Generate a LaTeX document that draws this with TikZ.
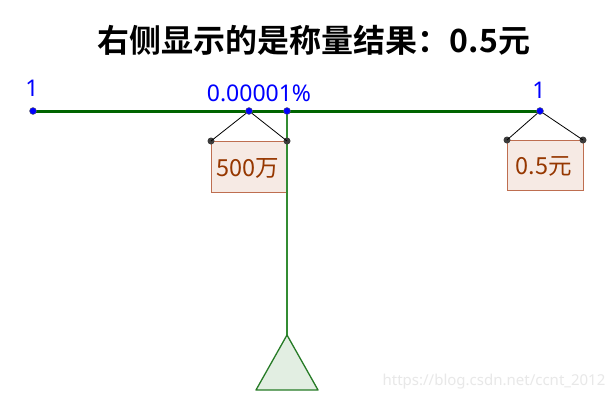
\documentclass[tikz,border=0pt]{standalone}
\usepackage{fontspec}
\setmainfont{Noto Sans}
\newfontfamily\cjk{Noto Sans CJK SC}
\newfontfamily\cjkb{Noto Sans CJK SC Bold}
\definecolor{beamgreen}{RGB}{0,100,0}
\definecolor{rodgreen}{RGB}{50,140,50}
\definecolor{ptblue}{RGB}{0,0,255}
\definecolor{boxfill}{RGB}{246,234,228}
\definecolor{boxdraw}{RGB}{190,110,80}
\definecolor{txtbrown}{RGB}{150,55,0}
\definecolor{trifill}{RGB}{226,238,226}
\definecolor{hookgray}{RGB}{60,60,60}
\tikzset{
  bluept/.style={circle,fill=ptblue,draw=black!60,line width=0.4pt,inner sep=0pt,minimum size=7pt},
  graypt/.style={circle,fill=hookgray,inner sep=0pt,minimum size=7pt},
  weightbox/.style={draw=boxdraw,fill=boxfill,line width=1pt},
  wtext/.style={text=txtbrown,font=\cjk\fontsize{23.5}{23.5}\selectfont},
  bluelab/.style={text=ptblue,font=\fontsize{23}{23}\selectfont},
  string/.style={draw=black,line width=0.8pt}
}
\begin{document}
\begin{tikzpicture}[x=1pt,y=-1pt]
\useasboundingbox[fill=white] (0,0) rectangle (613,402);
% title
\node[font=\cjkb\fontsize{32}{32}\selectfont] (title) at (314,40) {右侧显示的是称量结果：0.5元};
% boxes
\draw[weightbox] (211,141) rectangle (287,192);
\draw[weightbox] (507,140) rectangle (583,190);
\node[wtext] (w1) at (248,168) {500万};
\node[wtext] (w2) at (544,166) {0.5元};
% vertical rod
\coordinate (rodtop) at (287,111);
\coordinate (apex) at (287,335);
\draw[rodgreen,line width=1.2pt] (rodtop) -- (apex);
% triangle
\coordinate (bl) at (256,390);
\coordinate (br) at (318,390);
\draw[fill=trifill,draw=beamgreen!85,line width=1.3pt,line join=round] (apex) -- (br) -- (bl) -- cycle;
% beam
\coordinate (L) at (33,111);
\coordinate (R) at (540,111);
\draw[beamgreen,line width=3pt] (L) -- (R);
% strings
\coordinate (h1) at (249,111);
\node[graypt] (g1) at (211,141) {};
\node[graypt] (g2) at (287,141) {};
\node[graypt] (g3) at (507,140) {};
\node[graypt] (g4) at (583,140) {};
\draw[string] (g1.center) -- (h1) -- (g2.center);
\draw[string] (g3.center) -- (R) -- (g4.center);
% points
\node[bluept] (pL) at (L) {};
\node[bluept] (pH) at (h1) {};
\node[bluept] (pF) at (rodtop) {};
\node[bluept] (pR) at (R) {};
% labels
\node[bluelab] (l1) at (32,88) {1};
\node[bluelab] (l2) at (259,93) {0.00001\%};
\node[bluelab] (l3) at (539,90) {1};
% watermark
\node[text=black!9,font=\fontsize{15}{15}\selectfont] (wm) at (494,382) {https://blog.csdn.net/ccnt\_2012};
\end{tikzpicture}
\end{document}
